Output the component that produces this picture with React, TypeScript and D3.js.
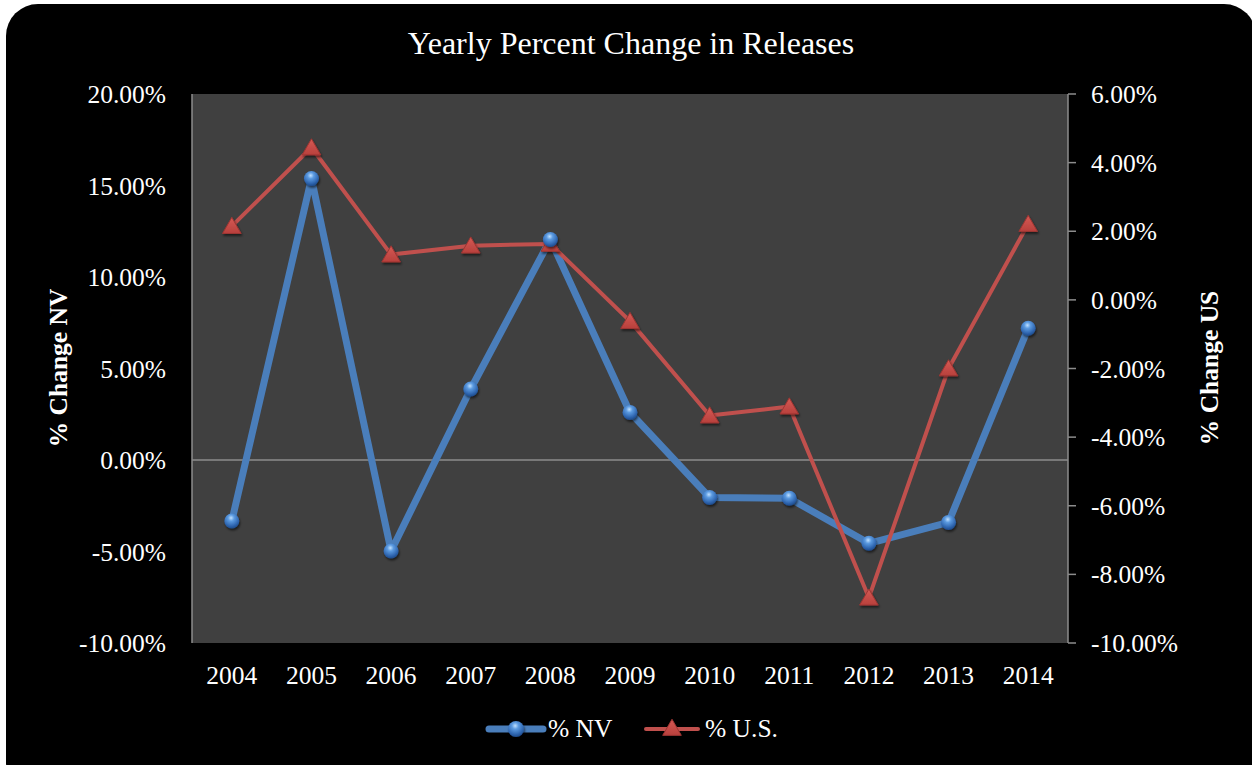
import React from "react";
import * as d3 from "d3";

// Yearly percent change in releases, Nevada vs. United States
const years = ["2004", "2005", "2006", "2007", "2008", "2009", "2010", "2011", "2012", "2013", "2014"];
const nvChange = [-3.33, 15.38, -4.97, 3.88, 12.05, 2.6, -2.05, -2.09, -4.55, -3.41, 7.2];
const usChange = [2.15, 4.44, 1.32, 1.58, 1.63, -0.62, -3.37, -3.11, -8.68, -2.0, 2.21];
const leftTicks = [-10, -5, 0, 5, 10, 15, 20];
const rightTicks = [-10, -8, -6, -4, -2, 0, 2, 4, 6];

const W = 1252;
const H = 765;
const plot = { left: 192, top: 94, right: 1068, bottom: 643 };
const FONT = "'Liberation Serif', 'Times New Roman', serif";
const BLUE = "#4a7ebb";
const RED = "#c0504d";
const FS = 25.5;

export default function App() {
  const x = d3.scaleBand<string>().domain(years).range([plot.left, plot.right]);
  const yL = d3.scaleLinear().domain([-10, 20]).range([plot.bottom, plot.top]);
  const yR = d3.scaleLinear().domain([-10, 6]).range([plot.bottom, plot.top]);
  const cx = (y: string) => (x(y) as number) + x.bandwidth() / 2;

  const nvLine = d3
    .line<number>()
    .x((_, i) => cx(years[i]))
    .y((d) => yL(d))(nvChange) as string;
  const usLine = d3
    .line<number>()
    .x((_, i) => cx(years[i]))
    .y((d) => yR(d))(usChange) as string;

  const tri = d3.symbol().type(d3.symbolTriangle).size(150)() as string;
  const fmt = (v: number) => v.toFixed(2) + "%";

  return (
    <svg
      width={W}
      height={H}
      style={{ position: "absolute", left: 0, top: 0, background: "#fff" }}
      fontFamily={FONT}
    >
      <defs>
        <radialGradient id="ball" cx="45%" cy="30%" r="70%">
          <stop offset="0%" stopColor="#bfe0ff" />
          <stop offset="30%" stopColor="#5b9ae0" />
          <stop offset="75%" stopColor="#2f66b0" />
          <stop offset="100%" stopColor="#1d4a8a" />
        </radialGradient>
        <linearGradient id="tri" x1="0" y1="0" x2="0" y2="1">
          <stop offset="0%" stopColor="#d65a55" />
          <stop offset="100%" stopColor="#b8403c" />
        </linearGradient>
        <filter id="shadow" x="-50%" y="-50%" width="200%" height="200%">
          <feDropShadow dx="1" dy="2" stdDeviation="1.2" floodColor="#000" floodOpacity="0.55" />
        </filter>
      </defs>

      <rect x={6} y={4} width={1250} height={790} rx={32} fill="#000" />

      <text x={631} y={54} textAnchor="middle" fill="#fff" fontSize={32}>
        Yearly Percent Change in Releases
      </text>

      <rect
        x={plot.left}
        y={plot.top}
        width={plot.right - plot.left}
        height={plot.bottom - plot.top}
        fill="#404040"
      />

      {/* zero baseline */}
      <line x1={plot.left} x2={plot.right} y1={yL(0)} y2={yL(0)} stroke="#8c8c8c" strokeWidth={1.5} />

      {/* left axis */}
      <line x1={plot.left} x2={plot.left} y1={plot.top} y2={plot.bottom} stroke="#8c8c8c" strokeWidth={1.5} />
      {leftTicks.map((t) => (
        <text key={t} x={166} y={yL(t) + 9} textAnchor="end" fill="#fff" fontSize={FS}>
          {fmt(t)}
        </text>
      ))}

      {/* right axis */}
      <line x1={plot.right} x2={plot.right} y1={plot.top} y2={plot.bottom} stroke="#8c8c8c" strokeWidth={1.5} />
      {rightTicks.map((t) => (
        <g key={t}>
          <line x1={plot.right} x2={plot.right + 8} y1={yR(t)} y2={yR(t)} stroke="#8c8c8c" strokeWidth={1.5} />
          <text x={1091} y={yR(t) + 9} textAnchor="start" fill="#fff" fontSize={FS}>
            {fmt(t)}
          </text>
        </g>
      ))}

      {/* category labels */}
      {years.map((yr) => (
        <text key={yr} x={cx(yr)} y={684} textAnchor="middle" fill="#fff" fontSize={FS}>
          {yr}
        </text>
      ))}

      {/* axis titles */}
      <text
        transform={`translate(67,368) rotate(-90)`}
        textAnchor="middle"
        fill="#fff"
        fontSize={FS}
        fontWeight="bold"
      >
        % Change NV
      </text>
      <text
        transform={`translate(1218,368) rotate(-90)`}
        textAnchor="middle"
        fill="#fff"
        fontSize={FS}
        fontWeight="bold"
      >
        % Change US
      </text>

      {/* series */}
      <path d={nvLine} fill="none" stroke={BLUE} strokeWidth={7} strokeLinejoin="round" />
      <path d={usLine} fill="none" stroke={RED} strokeWidth={4} strokeLinejoin="round" />

      {usChange.map((v, i) => (
        <path
          key={"u" + i}
          d={tri}
          transform={`translate(${cx(years[i])},${yR(v) + 2})`}
          fill="url(#tri)"
          stroke="#9e3532"
          strokeWidth={1}
          filter="url(#shadow)"
        />
      ))}
      {nvChange.map((v, i) => (
        <circle
          key={"n" + i}
          cx={cx(years[i])}
          cy={yL(v)}
          r={7.5}
          fill="url(#ball)"
          filter="url(#shadow)"
        />
      ))}

      {/* legend */}
      <g>
        <line x1={489} x2={543} y1={729} y2={729} stroke={BLUE} strokeWidth={7} strokeLinecap="round" />
        <circle cx={516} cy={729} r={8} fill="url(#ball)" filter="url(#shadow)" />
        <text x={548} y={737} fill="#fff" fontSize={FS}>
          % NV
        </text>
        <line x1={646} x2={698} y1={729} y2={729} stroke={RED} strokeWidth={4} strokeLinecap="round" />
        <path d={tri} transform="translate(672,730)" fill="url(#tri)" stroke="#9e3532" strokeWidth={1} />
        <text x={705} y={737} fill="#fff" fontSize={FS}>
          % U.S.
        </text>
      </g>
    </svg>
  );
}
